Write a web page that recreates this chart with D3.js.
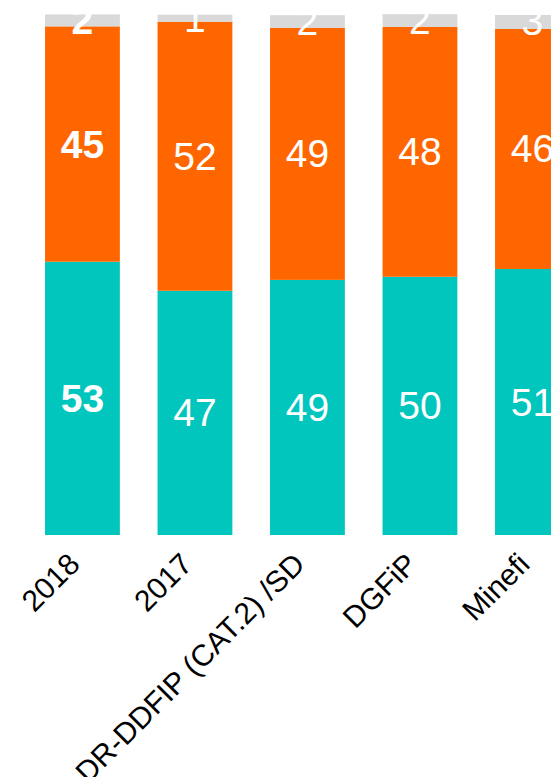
<!DOCTYPE html>
<html>
<head>
<meta charset="utf-8">
<script src="https://cdn.jsdelivr.net/npm/d3@7"></script>
<style>
  html, body { margin: 0; padding: 0; background: #fff; overflow: hidden; }
  svg { display: block; }
</style>
</head>
<body>
<script>
const categories = ["2018", "2017", "DR-DDFIP (CAT.2) /SD", "DGFiP", "Minefi"];
const seriesKeys = ["teal", "orange", "gray"];
const tealValues = [52.7, 47.1, 49.2, 49.8, 51.3];
const orangeValues = [45.4, 51.9, 48.6, 48.2, 46.3];
const grayValues = [2.3, 1.35, 2.45, 2.45, 2.7];
const highlighted = ["2018"];

const COLORS = { teal: "#00c6bd", orange: "#ff6600", gray: "#d9d9d9" };

const width = 551, height = 777;
const rows = categories.map((c, i) => ({
  category: c,
  teal: tealValues[i],
  orange: orangeValues[i],
  gray: grayValues[i]
}));

const svg = d3.select("body").append("svg")
  .attr("width", width)
  .attr("height", height);

svg.append("clipPath").attr("id", "plot-clip")
  .append("rect").attr("x", 0).attr("y", 14).attr("width", width).attr("height", 535 - 14);

const x = d3.scaleBand()
  .domain(categories)
  .range([26.2, 26.2 + 112.5 * categories.length])
  .paddingInner(0.335)
  .paddingOuter(0.1675);

const y = d3.scaleLinear().domain([0, 100]).range([535, 16.5]);

const stacked = d3.stack().keys(seriesKeys)(rows);

const plot = svg.append("g").attr("clip-path", "url(#plot-clip)");

const layers = plot.selectAll("g.layer")
  .data(stacked)
  .enter()
  .append("g")
  .attr("class", "layer")
  .attr("fill", d => COLORS[d.key]);

layers.selectAll("rect")
  .data(d => d)
  .enter()
  .append("rect")
  .attr("x", d => x(d.data.category))
  .attr("y", d => y(d[1]))
  .attr("width", x.bandwidth())
  .attr("height", d => y(d[0]) - y(d[1]));

layers.selectAll("text")
  .data(d => d)
  .enter()
  .append("text")
  .attr("x", d => x(d.data.category) + x.bandwidth() / 2)
  .attr("y", d => (y(d[0]) + y(d[1])) / 2)
  .attr("text-anchor", "middle")
  .attr("dominant-baseline", "central")
  .attr("fill", "#fff")
  .style("font-family", "'Liberation Sans', Arial, sans-serif")
  .style("font-size", "39px")
  .style("font-weight", d => highlighted.includes(d.data.category) ? "bold" : "normal")
  .text(d => d3.format(".0f")(d[1] - d[0]));

const xAxis = d3.axisBottom(x).tickSize(0).tickPadding(0);

svg.append("g")
  .attr("transform", "translate(0,535)")
  .call(xAxis)
  .call(g => g.select(".domain").remove())
  .selectAll("text")
  .attr("fill", "#000")
  .attr("dy", 0)
  .attr("y", 0)
  .attr("text-anchor", "end")
  .attr("transform", "translate(-1,31) rotate(-45)")
  .style("font-family", "'Liberation Sans', Arial, sans-serif")
  .style("font-size", "30px");
</script>
</body>
</html>
